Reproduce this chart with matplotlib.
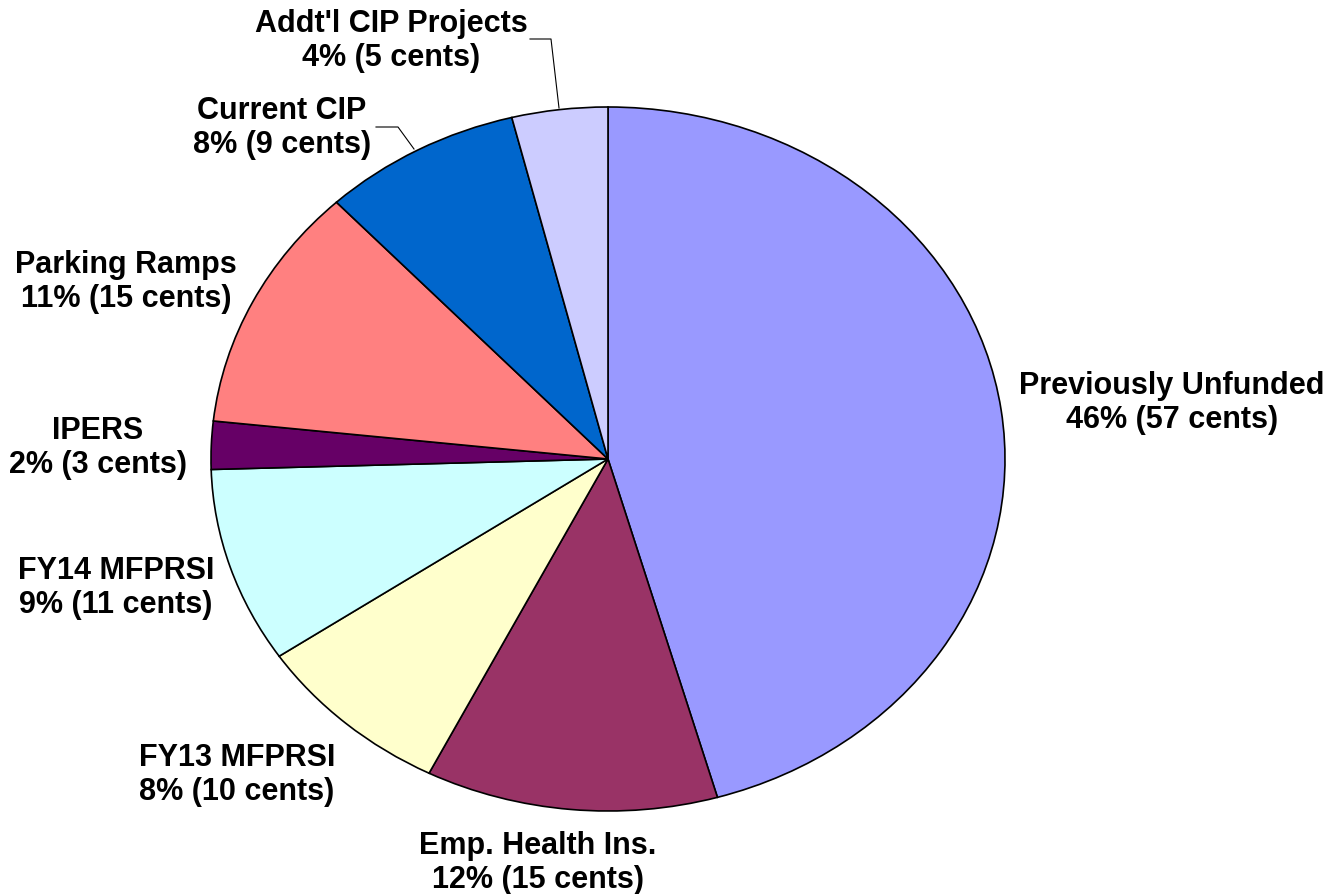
import matplotlib
matplotlib.use("Agg")
import matplotlib.pyplot as plt

categories = ["Previously Unfunded", "Emp. Health Ins.", "FY13 MFPRSI", "FY14 MFPRSI",
              "IPERS", "Parking Ramps", "Current CIP", "Addt'l CIP Projects"]
# slice shares (%) as drawn in the chart
shares = [45.6, 11.9, 8.1, 9.0, 2.2, 11.3, 8.1, 3.9]
# label values
percents = [46, 12, 8, 9, 2, 11, 8, 4]
cents = [57, 15, 10, 11, 3, 15, 9, 5]
colors = ["#9999FF", "#993366", "#FFFFCC", "#CCFFFF", "#660066", "#FF8080", "#0066CC", "#CCCCFF"]

W, H = 1334, 894
CX, CY, RX, RY = 608, 459, 397, 352

def px(x, y):
    return ((x - CX) / RX, (CY - y) / RY)

fig = plt.figure(figsize=(W / 100, H / 100), dpi=100)
ax = fig.add_axes([0, 0, 1, 1])
ax.pie(shares, colors=colors, startangle=90, counterclock=False,
       wedgeprops=dict(edgecolor="black", linewidth=1.2))
ax.set_aspect("auto")
ax.set_xlim(px(0, 0)[0], px(W, 0)[0])
ax.set_ylim(px(0, H)[1], px(0, 0)[1])
ax.axis("off")

label_pos = [(1172, 403), (538, 863), (237, 775), (116, 588),
             (98, 448), (126, 282), (282, 128), (391, 41)]
for name, p, c, (lx, ly) in zip(categories, percents, cents, label_pos):
    x, y = px(lx, ly)
    ax.text(x, y, f"{name}\n{p}% ({c} cents)", ha="center", va="center",
            fontsize=22, fontweight="bold", family="Liberation Sans",
            linespacing=1.2, color="black")

leaders = [[(530, 39), (551, 39), (559, 108)],
           [(376, 127), (398, 127), (414, 149)]]
for pts in leaders:
    xs, ys = zip(*[px(a, b) for a, b in pts])
    ax.plot(xs, ys, color="black", linewidth=0.8)

fig.savefig("out.png", dpi=100)
